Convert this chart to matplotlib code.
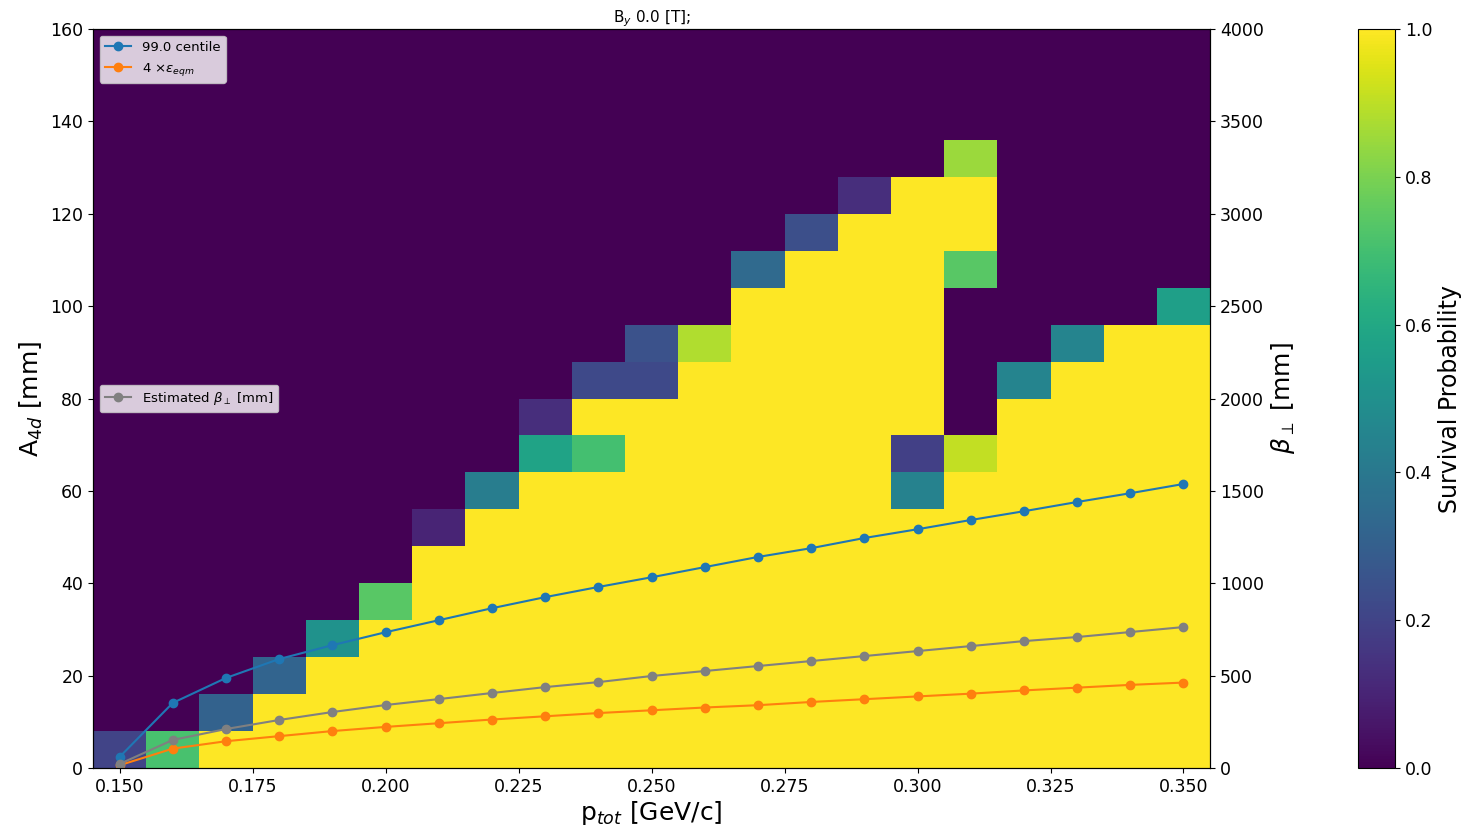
import numpy as np
import matplotlib
matplotlib.use("Agg")
import matplotlib.pyplot as plt

# momentum bin centres [GeV/c] and amplitude bin edges [mm]
p_tot = [0.15, 0.16, 0.17, 0.18, 0.19, 0.20, 0.21, 0.22, 0.23, 0.24, 0.25,
         0.26, 0.27, 0.28, 0.29, 0.30, 0.31, 0.32, 0.33, 0.34, 0.35]
a_edges = list(range(0, 168, 8))

# survival probability per momentum column, from the lowest amplitude bin up
# (bins above the last listed value are 0)
survival_cols = [
    [0.2],
    [0.71],
    [1, 0.31],
    [1, 1, 0.32],
    [1, 1, 1, 0.51],
    [1, 1, 1, 1, 0.74],
    [1, 1, 1, 1, 1, 1, 0.1],
    [1, 1, 1, 1, 1, 1, 1, 0.42],
    [1, 1, 1, 1, 1, 1, 1, 1, 0.58, 0.13],
    [1, 1, 1, 1, 1, 1, 1, 1, 0.7, 1, 0.22],
    [1, 1, 1, 1, 1, 1, 1, 1, 1, 1, 0.22, 0.25],
    [1, 1, 1, 1, 1, 1, 1, 1, 1, 1, 1, 0.88],
    [1, 1, 1, 1, 1, 1, 1, 1, 1, 1, 1, 1, 1, 0.34],
    [1, 1, 1, 1, 1, 1, 1, 1, 1, 1, 1, 1, 1, 1, 0.24],
    [1, 1, 1, 1, 1, 1, 1, 1, 1, 1, 1, 1, 1, 1, 1, 0.13],
    [1, 1, 1, 1, 1, 1, 1, 0.44, 0.19, 1, 1, 1, 1, 1, 1, 1],
    [1, 1, 1, 1, 1, 1, 1, 1, 0.91, 0, 0, 0, 0, 0.74, 1, 1, 0.85],
    [1, 1, 1, 1, 1, 1, 1, 1, 1, 1, 0.45],
    [1, 1, 1, 1, 1, 1, 1, 1, 1, 1, 1, 0.45],
    [1, 1, 1, 1, 1, 1, 1, 1, 1, 1, 1, 1],
    [1, 1, 1, 1, 1, 1, 1, 1, 1, 1, 1, 1, 0.56],
]

# overlay curves
centile_99 = [2.4, 14.1, 19.5, 23.6, 26.6, 29.4, 32.0, 34.6, 37.0, 39.2, 41.3,
              43.5, 45.7, 47.6, 49.8, 51.7, 53.7, 55.6, 57.6, 59.5, 61.5]
four_eps_eqm = [0.6, 4.2, 5.8, 6.9, 8.0, 8.9, 9.7, 10.5, 11.2, 11.9, 12.5,
                13.1, 13.6, 14.3, 14.9, 15.5, 16.1, 16.8, 17.4, 18.0, 18.5]
beta_perp = [22, 152, 211, 260, 303, 341, 373, 406, 438, 465, 498,
             525, 552, 579, 606, 633, 660, 687, 709, 736, 763]

n_rows = len(a_edges) - 1
grid = np.zeros((n_rows, len(p_tot)))
for j, col in enumerate(survival_cols):
    grid[:len(col), j] = col

p_edges = np.append(np.array(p_tot) - 0.005, p_tot[-1] + 0.005)

fig = plt.figure(figsize=(14.65, 8.31), dpi=100)
ax = fig.add_axes([0.0635, 0.0758, 0.7625, 0.8892])
cax = fig.add_axes([0.927, 0.0758, 0.0253, 0.8892])

mesh = ax.pcolormesh(p_edges, a_edges, grid, cmap="viridis", vmin=0, vmax=1)
ax.plot(p_tot, centile_99, "-o", color="tab:blue", ms=6, lw=1.5, label="99.0 centile")
ax.plot(p_tot, four_eps_eqm, "-o", color="tab:orange", ms=6, lw=1.5,
        label=r"4 $\times\varepsilon_{eqm}$")
ax.set_xlim(p_edges[0], p_edges[-1])
ax.set_ylim(0, 160)
ax.set_xticks([0.150, 0.175, 0.200, 0.225, 0.250, 0.275, 0.300, 0.325, 0.350])
ax.tick_params(labelsize=12.5)
ax.set_xlabel(r"p$_{tot}$ [GeV/c]", fontsize=18, labelpad=2)
ax.set_ylabel(r"A$_{4d}$ [mm]", fontsize=18)
ax.set_title(r"B$_y$ 0.0 [T];", fontsize=11, pad=4)
ax.legend(loc="upper left", fontsize=9.5)

ax2 = ax.twinx()
ax2.plot(p_tot, beta_perp, "-o", color="grey", ms=6, lw=1.5,
         label=r"Estimated $\beta_\perp$ [mm]")
ax2.set_ylim(0, 4000)
ax2.tick_params(labelsize=12.5)
ax2.set_ylabel(r"$\beta_\perp$ [mm]", fontsize=18)
ax2.legend(loc="center left", fontsize=9.5)

cb = fig.colorbar(mesh, cax=cax)
cb.set_ticks([0.0, 0.2, 0.4, 0.6, 0.8, 1.0])
cb.ax.tick_params(labelsize=12.5)
cb.set_label("Survival Probability", fontsize=17)

fig.savefig("out.png", dpi=100)
